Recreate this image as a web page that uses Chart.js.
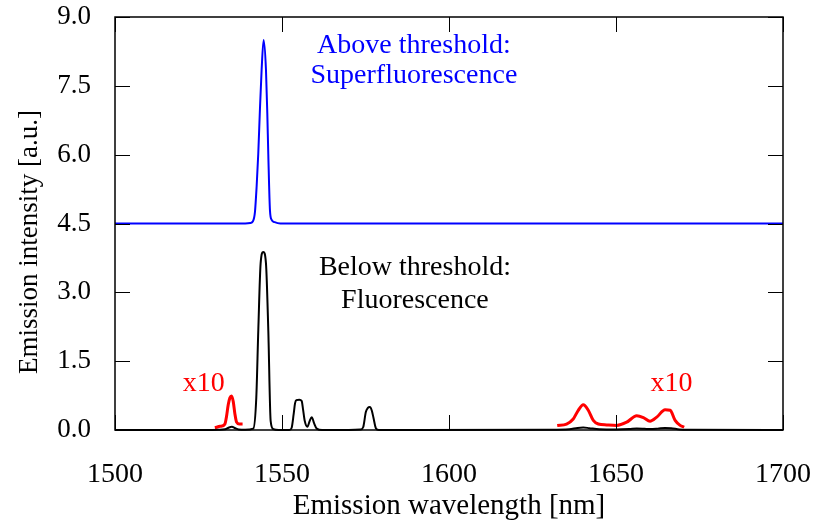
<!DOCTYPE html>
<html>
<head>
<meta charset="utf-8">
<script src="https://cdn.jsdelivr.net/npm/chart.js@4"></script>
<style>
  body { margin: 0; background: #fff; }
</style>
</head>
<body>
<canvas id="grafico" width="820" height="532"></canvas>
<script>
const xTicks = [1500, 1550, 1600, 1650, 1700];
const yTicks = [0, 1.5, 3, 4.5, 6, 7.5, 9];

const azulX = [1500, 1539, 1540.5, 1541.3, 1541.9, 1542.4, 1542.9, 1543.4, 1543.9, 1544.5, 1545.2, 1545.6, 1545.9, 1546.4, 1546.9, 1547.8, 1549.5, 1700];
const azulY = [4.5, 4.5, 4.51, 4.55, 4.75, 5.3, 6.03, 7.0, 7.85, 8.5, 7.85, 6.9, 6.0, 4.78, 4.58, 4.53, 4.5, 4.5];

const negroX = [1500, 1528, 1531, 1533, 1534, 1535, 1536, 1537, 1539, 1541.4, 1542.3, 1542.9, 1543.6, 1544.4, 1545.2, 1545.9, 1546.6, 1547.4, 1549,
                1552.2, 1552.9, 1553.5, 1553.9, 1554.3, 1555.2, 1555.9, 1556.3, 1556.8, 1557.6, 1558.3, 1558.9, 1559.6, 1560.4, 1562,
                1570, 1573.5, 1574.3, 1575.1, 1575.7, 1576.3, 1576.9, 1577.4, 1578.1, 1579, 1590,
                1630, 1636, 1638.5, 1640.2, 1642, 1645, 1650, 1654, 1656.2, 1658.5, 1660.2, 1662.5, 1664.7, 1666.5, 1669, 1672, 1700];
const negroY = [0, 0, 0.005, 0.015, 0.05, 0.07, 0.04, 0.012, 0.005, 0.03, 0.7, 2.17, 3.63, 3.88, 3.63, 2.17, 0.2, 0.02, 0,
                0, 0.05, 0.35, 0.58, 0.65, 0.66, 0.63, 0.45, 0.2, 0.07, 0.2, 0.28, 0.15, 0.03, 0,
                0, 0.01, 0.06, 0.39, 0.48, 0.5, 0.42, 0.26, 0.04, 0, 0,
                0.005, 0.015, 0.045, 0.055, 0.04, 0.015, 0.01, 0.02, 0.032, 0.026, 0.02, 0.03, 0.045, 0.04, 0.01, 0.003, 0];

const rojoIzqX = [1529.9, 1531.5, 1532.9, 1533.4, 1533.9, 1534.4, 1534.9, 1535.4, 1535.9, 1536.4, 1537.2, 1538.2];
const rojoIzqY = [0.05, 0.08, 0.13, 0.3, 0.55, 0.7, 0.74, 0.62, 0.35, 0.17, 0.13, 0.13];

const rojoDerX = [1632.4, 1635.2, 1637.2, 1638.7, 1640.2, 1641.7, 1643.2, 1644.7, 1647.2, 1650.2, 1653.2, 1656.2, 1658.2, 1660.2, 1662.2, 1664.7, 1666.2, 1667.7, 1669.2, 1670.4];
const rojoDerY = [0.10, 0.13, 0.24, 0.43, 0.55, 0.43, 0.21, 0.13, 0.11, 0.10, 0.17, 0.31, 0.27, 0.19, 0.28, 0.44, 0.43, 0.21, 0.10, 0.06];

const fuente = 'Liberation Serif, Times New Roman, serif';

function puntos(xs, ys) {
    return xs.map((x, i) => ({ x: x, y: ys[i] }));
}

function serie(xs, ys, color, ancho) {
    return {
        data: puntos(xs, ys),
        borderColor: color,
        borderWidth: ancho,
        pointRadius: 0,
        fill: false,
        cubicInterpolationMode: 'monotone',
        clip: 4
    };
}

function sinRelleno(s) {
    s.paddingTop = 0; s.paddingBottom = 0; s.paddingLeft = 0; s.paddingRight = 0;
}

// marco y marcas hacia dentro, al estilo gnuplot
const marcoPlugin = {
    id: 'marco',
    afterDraw(chart) {
        const ctx = chart.ctx;
        const a = chart.chartArea;
        const sx = chart.scales.x, sy = chart.scales.y;
        const L = 15;
        ctx.save();
        ctx.strokeStyle = '#000';
        ctx.lineWidth = 1.5;
        ctx.strokeRect(a.left, a.top, a.right - a.left, a.bottom - a.top);
        ctx.lineWidth = 1;
        ctx.beginPath();
        xTicks.forEach(v => {
            const px = Math.round(sx.getPixelForValue(v)) + 0.5;
            ctx.moveTo(px, a.bottom); ctx.lineTo(px, a.bottom - L);
            ctx.moveTo(px, a.top);    ctx.lineTo(px, a.top + L);
        });
        yTicks.forEach(v => {
            const py = Math.round(sy.getPixelForValue(v)) + 0.5;
            ctx.moveTo(a.left, py);  ctx.lineTo(a.left + L, py);
            ctx.moveTo(a.right, py); ctx.lineTo(a.right - L, py);
        });
        ctx.stroke();

        ctx.textAlign = 'center';
        ctx.textBaseline = 'alphabetic';
        ctx.font = '28px ' + fuente;
        const texto = (t, x, y, c) => {
            ctx.fillStyle = c;
            ctx.fillText(t, sx.getPixelForValue(x), sy.getPixelForValue(y));
        };
        texto('Above threshold:', 1589.5, 8.21, '#0000ff');
        texto('Superfluorescence', 1589.5, 7.56, '#0000ff');
        texto('Below threshold:', 1589.8, 3.37, '#000');
        texto('Fluorescence', 1589.8, 2.65, '#000');
        texto('x10', 1526.6, 0.86, '#ff0000');
        texto('x10', 1666.6, 0.86, '#ff0000');

        // titulo del eje y, algo por debajo del centro como en el original
        ctx.fillStyle = '#000';
        ctx.font = '27px ' + fuente;
        ctx.translate(37, 242);
        ctx.rotate(-Math.PI / 2);
        ctx.fillText('Emission intensity [a.u.]', 0, 0);
        ctx.restore();
    }
};

new Chart(document.getElementById('grafico').getContext('2d'), {
    type: 'line',
    data: {
        datasets: [
            serie(negroX, negroY, '#000000', 2),
            serie(rojoIzqX, rojoIzqY, '#ff0000', 3),
            serie(rojoDerX, rojoDerY, '#ff0000', 3),
            serie(azulX, azulY, '#0000ff', 2)
        ]
    },
    options: {
        responsive: false,
        devicePixelRatio: 1,
        animation: false,
        layout: { padding: { left: 0, right: 37, top: 17, bottom: 0 } },
        plugins: { legend: { display: false }, tooltip: { enabled: false } },
        scales: {
            x: {
                type: 'linear', min: 1500, max: 1700,
                grid: { display: false },
                border: { display: false },
                afterFit: s => { s.height = 102; sinRelleno(s); },
                afterBuildTicks: s => { s.ticks = xTicks.map(v => ({ value: v })); },
                ticks: { color: '#000', padding: 20, maxRotation: 0, callback: v => String(v), font: { family: fuente, size: 28 } },
                title: { display: true, text: 'Emission wavelength [nm]', color: '#000', padding: { top: 0, bottom: 8 }, font: { family: fuente, size: 29 } }
            },
            y: {
                min: 0, max: 9,
                grid: { display: false },
                border: { display: false },
                afterFit: s => { s.width = 115; sinRelleno(s); },
                afterBuildTicks: s => { s.ticks = yTicks.map(v => ({ value: v })); },
                ticks: { color: '#000', padding: 16, callback: v => v.toFixed(1), font: { family: fuente, size: 27 } },
                title: { display: false }
            }
        }
    },
    plugins: [marcoPlugin]
});
</script>
</body>
</html>
